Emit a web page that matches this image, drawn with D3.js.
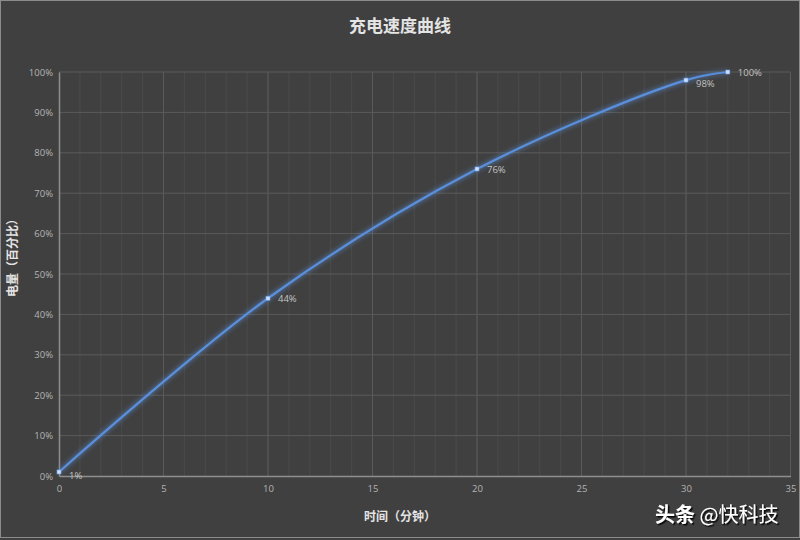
<!DOCTYPE html>
<html>
<head>
<meta charset="utf-8">
<script src="https://cdn.jsdelivr.net/npm/d3@7"></script>
<style>
  body { margin: 0; background: #404040; }
  svg { display: block; }
</style>
</head>
<body>
<div id="chart"></div>
<script>
var WIDTH = 800;
var HEIGHT = 540;

// data
var minutes = [0, 10, 20, 30, 32];
var charge = [1, 44, 76, 98, 100];
var xTicks = [0, 5, 10, 15, 20, 25, 30, 35];
var yTicks = [0, 10, 20, 30, 40, 50, 60, 70, 80, 90, 100];

var margin = { top: 72, right: 10, bottom: 64, left: 59 };

var svg = d3.select('#chart')
  .append('svg')
  .attr('width', WIDTH)
  .attr('height', HEIGHT)
  .style('font-family', '"Noto Sans CJK SC", "Noto Sans", sans-serif');

svg.append('rect')
  .attr('x', 0.5).attr('y', 0.5)
  .attr('width', WIDTH - 1).attr('height', HEIGHT - 3)
  .attr('fill', '#404040')
  .attr('stroke', '#8c8c8c');

var defs = svg.append('defs');
var glow = defs.append('filter').attr('id', 'glow')
  .attr('x', '-10%').attr('y', '-10%').attr('width', '120%').attr('height', '120%');
glow.append('feGaussianBlur').attr('stdDeviation', 2.5).attr('result', 'blur');
var merge = glow.append('feMerge');
merge.append('feMergeNode').attr('in', 'blur');
merge.append('feMergeNode').attr('in', 'SourceGraphic');

var shadow = defs.append('filter').attr('id', 'shadow');
shadow.append('feDropShadow')
  .attr('dx', 1.5).attr('dy', 1.5).attr('stdDeviation', 0.6)
  .attr('flood-color', '#000').attr('flood-opacity', 0.9);

var x = d3.scaleLinear().domain([0, 35]).range([margin.left, 790.5]);
var y = d3.scaleLinear().domain([0, 100]).range([476, margin.top]);

// minor vertical grid, one per minute
svg.append('g').selectAll('line')
  .data(d3.range(1, 35))
  .enter().append('line')
  .attr('x1', function(d) { return x(d); })
  .attr('x2', function(d) { return x(d); })
  .attr('y1', y(100)).attr('y2', y(0))
  .attr('stroke', '#4a4a4a')
  .attr('stroke-width', 1);

// major grid
svg.append('g').selectAll('line')
  .data(xTicks.slice(1))
  .enter().append('line')
  .attr('x1', function(d) { return x(d); })
  .attr('x2', function(d) { return x(d); })
  .attr('y1', y(100)).attr('y2', y(0))
  .attr('stroke', '#5a5a5a');

svg.append('g').selectAll('line')
  .data(yTicks.slice(1))
  .enter().append('line')
  .attr('x1', x(0)).attr('x2', x(35))
  .attr('y1', function(d) { return y(d); })
  .attr('y2', function(d) { return y(d); })
  .attr('stroke', '#5a5a5a');

// axes
var xAxis = svg.append('g')
  .attr('transform', 'translate(0,' + y(0) + ')')
  .call(d3.axisBottom(x).tickValues(xTicks).tickSize(0).tickPadding(9));
var yAxis = svg.append('g')
  .attr('transform', 'translate(' + x(0) + ',0)')
  .call(d3.axisLeft(y).tickValues(yTicks).tickSize(0).tickPadding(6)
    .tickFormat(function(d) { return d + '%'; }));

[xAxis, yAxis].forEach(function(a) {
  a.select('.domain').attr('stroke', '#8e8e8e').attr('stroke-width', 1.5);
  a.selectAll('text')
    .attr('fill', '#b4b4b4')
    .style('font-size', '9.5px')
    .style('font-family', '"Open Sans", "Noto Sans", sans-serif');
});

// curve
var points = minutes.map(function(m, i) { return [m, charge[i]]; });
var line = d3.line()
  .x(function(d) { return x(d[0]); })
  .y(function(d) { return y(d[1]); })
  .curve(d3.curveCatmullRom.alpha(0.5));

svg.append('path')
  .datum(points)
  .attr('d', line)
  .attr('fill', 'none')
  .attr('stroke', '#5a8fdc')
  .attr('stroke-width', 2.2)
  .attr('filter', 'url(#glow)');

svg.append('g').selectAll('rect')
  .data(points)
  .enter().append('rect')
  .attr('x', function(d) { return x(d[0]) - 2; })
  .attr('y', function(d) { return y(d[1]) - 2; })
  .attr('width', 4).attr('height', 4)
  .attr('fill', '#cfe0ff')
  .attr('stroke', '#6f9ee6')
  .attr('stroke-width', 0.6);

svg.append('g').selectAll('text')
  .data(points)
  .enter().append('text')
  .attr('x', function(d) { return x(d[0]) + 10; })
  .attr('y', function(d, i) { return y(d[1]) + (i === 0 || i === 3 ? 7 : 4); })
  .attr('fill', '#c4c4c4')
  .style('font-size', '9.5px')
  .style('font-family', '"Open Sans", "Noto Sans", sans-serif')
  .text(function(d) { return d[1] + '%'; });

// titles
svg.append('text')
  .attr('x', 400).attr('y', 32)
  .attr('text-anchor', 'middle')
  .attr('fill', '#e4e4e4')
  .style('font-size', '17px')
  .style('font-weight', 'bold')
  .text('充电速度曲线');

svg.append('text')
  .attr('x', 400).attr('y', 521)
  .attr('text-anchor', 'middle')
  .attr('fill', '#e4e4e4')
  .style('font-size', '12px')
  .style('font-weight', 'bold')
  .text('时间（分钟）');

svg.append('text')
  .attr('transform', 'translate(17,255) rotate(-90)')
  .attr('text-anchor', 'middle')
  .attr('fill', '#e4e4e4')
  .style('font-size', '12px')
  .style('font-weight', 'bold')
  .text('电量（百分比）');

// watermark
var wm = svg.append('text')
  .attr('x', 655).attr('y', 522)
  .attr('fill', '#ffffff')
  .attr('filter', 'url(#shadow)')
  .style('font-size', '20px');
wm.append('tspan').style('font-weight', 'bold').text('头条');
wm.append('tspan').text(' @快科技');
</script>
</body>
</html>
